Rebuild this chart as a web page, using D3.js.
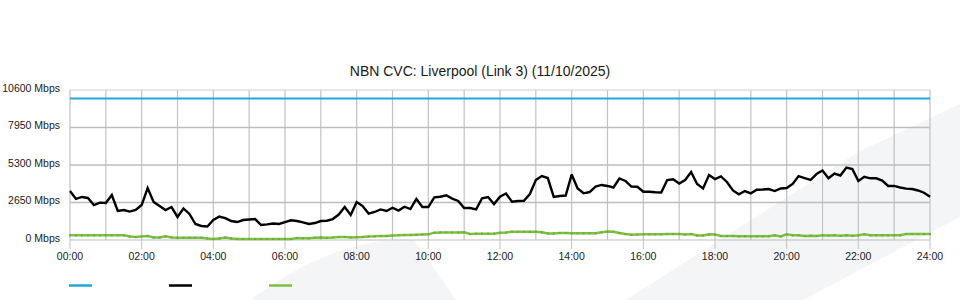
<!DOCTYPE html>
<html>
<head>
<meta charset="utf-8">
<script src="https://cdn.jsdelivr.net/npm/d3@7"></script>
<style>
  body { margin: 0; background: #fff; }
  svg { display: block; font-family: "Liberation Sans", Arial, sans-serif; }
</style>
</head>
<body>
<svg id="chart" width="960" height="300"></svg>
<script>
const title = "NBN CVC: Liverpool (Link 3) (11/10/2025)";

// y axis ticks (Mbps)
const yTicks = [0, 2650, 5300, 7950, 10600];
// x axis ticks every 2 hours, labels
const xTickLabels = ["00:00", "02:00", "04:00", "06:00", "08:00", "10:00", "12:00",
  "14:00", "16:00", "18:00", "20:00", "22:00", "24:00"];

const stepMinutes = 10; // one sample every 10 minutes, 00:00 .. 24:00

// capacity line
const capacity = [10000, 10000];

// traffic (black), Mbps
const traffic = [
  3460, 2900, 3040, 2970, 2470, 2640, 2610, 3180, 2050, 2120,
  2010, 2120, 2470, 3670, 2690, 2400, 2120, 2330, 1630, 2230,
  1840, 1130, 990, 950, 1410, 1660, 1550, 1340, 1270, 1410,
  1450, 1480, 1060, 1100, 1170, 1130, 1270, 1390, 1340, 1240,
  1130, 1200, 1340, 1360, 1480, 1800, 2330, 1770, 2690, 2400,
  1870, 1980, 2160, 2050, 2280, 2080, 2350, 2190, 2900, 2330,
  2330, 3020, 3060, 3160, 2930, 2760, 2260, 2260, 2160, 2950,
  3040, 2540, 3060, 3290, 2710, 2760, 2770, 3250, 4240, 4520,
  4380, 3040, 3110, 3140, 4630, 3640, 3300, 3390, 3780, 3890,
  3820, 3710, 4350, 4170, 3780, 3760, 3410, 3410, 3370, 3360,
  4240, 4290, 3990, 4240, 4810, 3960, 3640, 4590, 4310, 4500,
  4100, 3500, 3230, 3460, 3300, 3550, 3570, 3600, 3460, 3640,
  3670, 3960, 4520, 4380, 4240, 4660, 4910, 4360, 4700, 4560,
  5120, 5020, 4170, 4470, 4360, 4360, 4200, 3820, 3820, 3710,
  3630, 3600, 3500, 3340, 3050
];

// second traffic series (green), Mbps
const trafficB = [
  330, 330, 330, 330, 330, 330, 330, 330, 330, 330,
  250, 210, 250, 280, 180, 180, 260, 180, 160, 160,
  160, 160, 160, 110, 70, 110, 180, 110, 70, 70,
  70, 70, 70, 70, 70, 70, 70, 70, 140, 120,
  120, 160, 180, 160, 180, 210, 210, 180, 200, 210,
  250, 260, 280, 280, 320, 330, 350, 350, 370, 390,
  400, 520, 530, 530, 530, 530, 540, 420, 450, 450,
  450, 450, 510, 530, 580, 580, 580, 580, 580, 540,
  460, 460, 490, 490, 470, 470, 470, 470, 470, 540,
  600, 580, 490, 420, 370, 390, 400, 400, 400, 400,
  420, 420, 420, 390, 420, 320, 320, 400, 390, 280,
  280, 280, 260, 260, 260, 260, 260, 260, 330, 250,
  400, 330, 330, 280, 300, 280, 330, 320, 330, 300,
  330, 300, 330, 400, 330, 330, 330, 330, 330, 330,
  420, 420, 420, 420, 420
];

const seriesColors = ["#22a6df", "#000000", "#7cc142"];

const svg = d3.select("#chart");
const margin = {top: 90, right: 30, bottom: 60, left: 70};
const width = 960 - margin.left - margin.right;
const height = 300 - margin.top - margin.bottom;

// faint background logo shapes
svg.append("path")
  .attr("d", "M250,300 C290,270 340,245 385,241 L414,240 L456,300 Z")
  .attr("fill", "#f4f5f7");
svg.append("path")
  .attr("d", "M626,300 L740,227 L860,151 L960,104 L960,217 L803,300 Z")
  .attr("fill", "#f4f5f7");

const x = d3.scaleLinear().domain([0, 1440]).range([margin.left, margin.left + width]);
const y = d3.scaleLinear().domain([0, 10600]).range([margin.top + height, margin.top]);

// vertical grid, every hour
svg.append("g")
  .selectAll("line")
  .data(d3.range(0, 1441, 60))
  .join("line")
  .attr("x1", d => x(d)).attr("x2", d => x(d))
  .attr("y1", y(10600)).attr("y2", y(0))
  .attr("stroke", "#c2c2c2")
  .attr("stroke-width", 1.2);

// horizontal grid
svg.append("g")
  .selectAll("line")
  .data(yTicks)
  .join("line")
  .attr("x1", x(0)).attr("x2", x(1440))
  .attr("y1", d => y(d)).attr("y2", d => y(d))
  .attr("stroke", d => (d === 10600 ? "#cfcfcf" : "#bdbdbd"))
  .attr("stroke-width", d => (d === 10600 || d === 0 ? 1 : 1.6));

// y labels
svg.append("g")
  .selectAll("text")
  .data(yTicks)
  .join("text")
  .attr("x", margin.left - 10)
  .attr("y", d => y(d) + 1.5)
  .attr("text-anchor", "end")
  .attr("font-size", "10.5px")
  .attr("fill", "#1a1a1a")
  .text(d => d + " Mbps");

// x axis ticks + labels
const xAxis = svg.append("g");
xAxis.selectAll("line")
  .data(xTickLabels)
  .join("line")
  .attr("x1", (d, i) => x(i * 120)).attr("x2", (d, i) => x(i * 120))
  .attr("y1", y(0)).attr("y2", y(0) + 9)
  .attr("stroke", "#c2c2c2");
xAxis.selectAll("text")
  .data(xTickLabels)
  .join("text")
  .attr("x", (d, i) => x(i * 120))
  .attr("y", y(0) + 20)
  .attr("text-anchor", "middle")
  .attr("font-size", "10.5px")
  .attr("fill", "#1a1a1a")
  .text(d => d);

// title
svg.append("text")
  .attr("x", 480)
  .attr("y", 76)
  .attr("text-anchor", "middle")
  .attr("font-size", "14px")
  .attr("fill", "#1a1a1a")
  .text(title);

const line = d3.line()
  .x((d, i) => x(i * stepMinutes))
  .y(d => y(d));

// capacity
svg.append("path")
  .datum(capacity)
  .attr("fill", "none")
  .attr("stroke", seriesColors[0])
  .attr("stroke-width", 2)
  .attr("d", d3.line().x((d, i) => x(i * 1440)).y(d => y(d)));

// green series with small markers
svg.append("path")
  .datum(trafficB)
  .attr("fill", "none")
  .attr("stroke", seriesColors[2])
  .attr("stroke-width", 2.5)
  .attr("d", line);
svg.append("g")
  .selectAll("rect")
  .data(trafficB)
  .join("rect")
  .attr("x", (d, i) => x(i * stepMinutes) - 1)
  .attr("y", d => y(d) - 1)
  .attr("width", 2).attr("height", 2)
  .attr("fill", "#6aae33");

// black series
svg.append("path")
  .datum(traffic)
  .attr("fill", "none")
  .attr("stroke", seriesColors[1])
  .attr("stroke-width", 2.4)
  .attr("stroke-linejoin", "miter")
  .attr("stroke-miterlimit", 3)
  .attr("d", line);

// legend swatches
svg.append("g")
  .selectAll("line")
  .data(seriesColors)
  .join("line")
  .attr("x1", (d, i) => 69 + i * 100)
  .attr("x2", (d, i) => 92 + i * 100)
  .attr("y1", 285.5).attr("y2", 285.5)
  .attr("stroke", d => d)
  .attr("stroke-width", 2.5);
</script>
</body>
</html>
